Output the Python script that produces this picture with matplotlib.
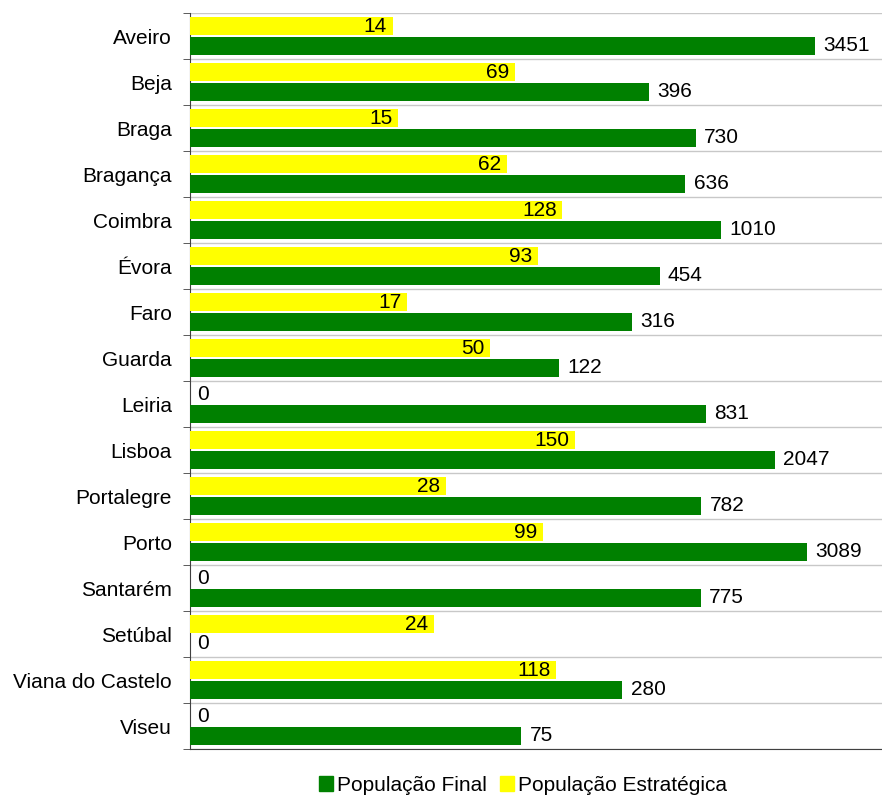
import numpy as np
import matplotlib
matplotlib.use("Agg")
import matplotlib.pyplot as plt
from matplotlib.patches import Patch

plt.rcParams['font.family'] = ['Liberation Sans', 'DejaVu Sans']

districts = ["Aveiro", "Beja", "Braga", "Bragança", "Coimbra", "Évora", "Faro", "Guarda",
             "Leiria", "Lisboa", "Portalegre", "Porto", "Santarém", "Setúbal",
             "Viana do Castelo", "Viseu"]
pop_estrategica = [14, 69, 15, 62, 128, 93, 17, 50, 0, 150, 28, 99, 0, 24, 118, 0]
pop_final = [3451, 396, 730, 636, 1010, 454, 316, 122, 831, 2047, 782, 3089, 775, 0, 280, 75]

W, H = 882, 796
fig = plt.figure(figsize=(W / 100, H / 100), dpi=100)
ax = fig.add_axes([190 / W, 1 - 749 / H, (882 - 190) / W, (749 - 13) / H])

n = len(districts)
y = np.arange(n)
est = np.array(pop_estrategica, dtype=float)
fin = np.array(pop_final, dtype=float)
h = 0.39
off = 0.215

ax.set_xscale('log')
ax.barh(y - off, np.where(est > 0, est - 1, 0), left=1, height=h, color='#FFFF00', zorder=3)
ax.barh(y + off, np.where(fin > 0, fin - 1, 0), left=1, height=h, color='#008000', zorder=3)

fs = 15
for yi, v in zip(y, est):
    if v > 0:
        ax.annotate(f"{int(v)}", xy=(v, yi - off), xytext=(-4, 0), textcoords='offset points',
                    ha='right', va='center', fontsize=fs, zorder=4)
    else:
        ax.annotate("0", xy=(1, yi - off), xytext=(5, 0), textcoords='offset points',
                    ha='left', va='center', fontsize=fs, zorder=4)
for yi, v in zip(y, fin):
    if v > 0:
        ax.annotate(f"{int(v)}", xy=(v, yi + off), xytext=(6, 0), textcoords='offset points',
                    ha='left', va='center', fontsize=fs, zorder=4)
    else:
        ax.annotate("0", xy=(1, yi + off), xytext=(5, 0), textcoords='offset points',
                    ha='left', va='center', fontsize=fs, zorder=4)

ax.set_xlim(1, 10 ** ((882 - 190) / 176.7))
ax.set_ylim(n - 0.5, -0.5)
ax.set_yticks(y)
ax.set_yticklabels(districts, fontsize=fs)
ax.tick_params(axis='y', which='major', length=0, pad=13)
ax.set_yticks(np.arange(-0.5, n, 1), minor=True)
ax.tick_params(axis='y', which='minor', length=5, color='#404040', direction='out')
ax.xaxis.set_major_locator(matplotlib.ticker.NullLocator())
ax.xaxis.set_minor_locator(matplotlib.ticker.NullLocator())
ax.grid(True, which='minor', axis='y', color='#c8c8c8', linewidth=1, zorder=0)
for s in ['top', 'right']:
    ax.spines[s].set_visible(False)
ax.spines['left'].set_color('#404040')
ax.spines['bottom'].set_color('#404040')

handles = [Patch(color='#008000', label='População Final'),
           Patch(color='#FFFF00', label='População Estratégica')]
fig.legend(handles=handles, loc='lower center', bbox_to_anchor=(523 / W, -0.022), ncol=2,
           frameon=False, fontsize=fs, handlelength=0.7, handleheight=0.7,
           handletextpad=0.2, columnspacing=0.6)

fig.savefig("out.png", dpi=100)
